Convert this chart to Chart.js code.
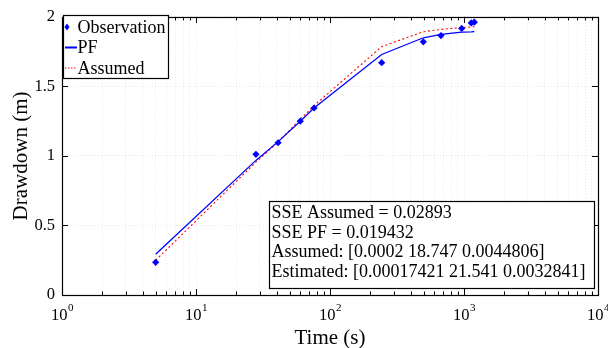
<!DOCTYPE html>
<html><head><meta charset="utf-8">
<script src="https://cdn.jsdelivr.net/npm/chart.js@4/dist/chart.umd.min.js"></script>
<style>html,body{margin:0;padding:0;background:#fff;}#wrap{width:608px;height:348px;}</style>
</head><body><div id="wrap"><canvas id="c" width="608" height="348"></canvas></div>
<script>
// ---- data ----
const times      = [5, 28, 41, 60, 76, 243, 497, 673, 961, 1133, 1194];
const observed   = [0.235, 1.012, 1.095, 1.25, 1.345, 1.671, 1.821, 1.866, 1.917, 1.957, 1.962];
const pfFit      = [0.293, 0.968, 1.103, 1.25, 1.345, 1.73, 1.85, 1.875, 1.89, 1.893, 1.895];
const assumedFit = [0.25, 0.955, 1.10, 1.265, 1.362, 1.786, 1.893, 1.91, 1.924, 1.928, 1.93];
const xMajorTicks = [1, 10, 100, 1000, 10000];
const xTickExponents = ['0', '1', '2', '3', '4'];
const yTicks = [0, 0.5, 1, 1.5, 2];
const yTickLabels = ['0', '0.5', '1', '1.5', '2'];
const xTitle = 'Time (s)';
const yTitle = 'Drawdown (m)';
const seriesLabels = ['Observation', 'PF', 'Assumed'];
const infoLines = ['SSE Assumed = 0.02893', 'SSE PF = 0.019432', 'Assumed: [0.0002 18.747 0.0044806]', 'Estimated: [0.00017421 21.541 0.0032841]'];

const FONT = '"Liberation Serif", "Times New Roman", serif';
const BLUE = '#0000ff', RED = '#ff0000';

function pts(ys) { return times.map((t, i) => ({ x: t, y: ys[i] })); }

// all log tick positions (1..9 per decade)
function logTickList() {
  const out = [];
  for (let e = 0; e < 4; e++) for (let m = 1; m <= 9; m++) out.push({ value: m * Math.pow(10, e), major: m === 1 });
  out.push({ value: 10000, major: true });
  return out;
}

const decor = {
  id: 'decor',
  afterDraw(chart) {
    const ctx = chart.ctx, ca = chart.chartArea;
    const xs = chart.scales.x, ys = chart.scales.y;
    const ds = chart.data.datasets;
    ctx.save();
    // box
    ctx.strokeStyle = '#000'; ctx.lineWidth = 1.2; ctx.setLineDash([]);
    ctx.strokeRect(Math.round(ca.left) + 0.5, Math.round(ca.top) + 0.5, Math.round(ca.right - ca.left), Math.round(ca.bottom - ca.top));
    // x ticks inward, top and bottom
    ctx.lineWidth = 1;
    ctx.beginPath();
    logTickList().forEach(t => {
      const px = Math.round(xs.getPixelForValue(t.value)) + 0.5;
      const len = t.major ? 6 : 3.5;
      ctx.moveTo(px, ca.bottom); ctx.lineTo(px, ca.bottom - len);
      ctx.moveTo(px, ca.top); ctx.lineTo(px, ca.top + len);
    });
    yTicks.forEach(v => {
      const py = Math.round(ys.getPixelForValue(v)) + 0.5;
      ctx.moveTo(ca.left, py); ctx.lineTo(ca.left + 6, py);
      ctx.moveTo(ca.right, py); ctx.lineTo(ca.right - 6, py);
    });
    ctx.stroke();
    // x tick labels 10^n
    ctx.fillStyle = '#000';
    xMajorTicks.forEach((v, i) => {
      const px = xs.getPixelForValue(v);
      ctx.font = '16.5px ' + FONT;
      const wb = ctx.measureText('10').width;
      ctx.font = '11px ' + FONT;
      const we = ctx.measureText(xTickExponents[i]).width;
      const x0 = px - (wb + we) / 2;
      ctx.textBaseline = 'alphabetic'; ctx.textAlign = 'left';
      ctx.font = '16.5px ' + FONT;
      ctx.fillText('10', x0, 320);
      ctx.font = '11px ' + FONT;
      ctx.fillText(xTickExponents[i], x0 + wb + 0.5, 311);
    });
    // axis titles
    ctx.font = '21px ' + FONT;
    ctx.textAlign = 'center'; ctx.textBaseline = 'alphabetic';
    ctx.fillText(xTitle, (ca.left + ca.right) / 2, 344);
    ctx.save();
    ctx.translate(27, (ca.top + ca.bottom) / 2);
    ctx.rotate(-Math.PI / 2);
    ctx.fillText(yTitle, 0, 0);
    ctx.restore();
    // legend
    const lx = 63.5, ly = 15.5, lw = 105, lh = 63;
    ctx.fillStyle = '#fff'; ctx.fillRect(lx, ly, lw, lh);
    ctx.strokeStyle = '#000'; ctx.lineWidth = 1.2; ctx.strokeRect(lx, ly, lw, lh);
    ctx.font = '18px ' + FONT; ctx.textAlign = 'left'; ctx.textBaseline = 'middle'; ctx.fillStyle = '#000';
    const rowY = [27, 47.5, 68];
    // marker
    ctx.fillStyle = ds[0].backgroundColor;
    ctx.beginPath(); ctx.moveTo(67, rowY[0] - 3.5); ctx.lineTo(69.5, rowY[0]); ctx.lineTo(67, rowY[0] + 3.5); ctx.lineTo(64.5, rowY[0]); ctx.closePath(); ctx.fill();
    // PF line
    ctx.strokeStyle = ds[1].borderColor; ctx.lineWidth = 2; ctx.setLineDash([]);
    ctx.beginPath(); ctx.moveTo(65, rowY[1]); ctx.lineTo(77, rowY[1]); ctx.stroke();
    // Assumed
    ctx.strokeStyle = ds[2].borderColor; ctx.lineWidth = 1; ctx.setLineDash([1.5, 1.5]);
    ctx.beginPath(); ctx.moveTo(65, rowY[2]); ctx.lineTo(77, rowY[2]); ctx.stroke();
    ctx.setLineDash([]);
    ctx.fillStyle = '#000';
    seriesLabels.forEach((s, i) => ctx.fillText(s, 77.5, rowY[i] + 1));
    // info box
    const bx = 269.5, by = 201.5, bw = 325, bh = 87;
    ctx.fillStyle = '#fff'; ctx.fillRect(bx, by, bw, bh);
    ctx.strokeStyle = '#000'; ctx.lineWidth = 1.2; ctx.strokeRect(bx, by, bw, bh);
    ctx.fillStyle = '#000'; ctx.font = '18px ' + FONT; ctx.textBaseline = 'middle';
    infoLines.forEach((s, i) => ctx.fillText(s, 271.5, 213.5 + i * 19.5));
    ctx.restore();
  }
};

new Chart(document.getElementById('c'), {
  type: 'line',
  data: {
    datasets: [
      { label: seriesLabels[0], data: pts(observed), showLine: false, pointStyle: 'rectRot', pointRadius: 3.6, pointHoverRadius: 3.6, backgroundColor: BLUE, borderColor: BLUE, borderWidth: 0, order: 0 },
      { label: seriesLabels[1], data: pts(pfFit), borderColor: BLUE, backgroundColor: BLUE, borderWidth: 1.3, pointRadius: 0, tension: 0, order: 1 },
      { label: seriesLabels[2], data: pts(assumedFit), borderColor: RED, backgroundColor: RED, borderWidth: 1.1, borderDash: [2, 2.5], pointRadius: 0, tension: 0, order: 2 }
    ]
  },
  options: {
    responsive: false, animation: false, devicePixelRatio: 1,
    layout: { padding: { left: 0, right: 10, top: 15, bottom: 0 } },
    plugins: { legend: { display: false }, tooltip: { enabled: false } },
    scales: {
      x: {
        type: 'logarithmic', min: 1, max: 10000,
        afterBuildTicks: s => { s.ticks = logTickList(); },
        afterFit: s => { s.height = 53; },
        ticks: { display: false, autoSkip: false },
        grid: { color: 'rgba(0,0,0,0.09)', drawTicks: false, lineWidth: 1 },
        border: { display: false, dash: [1, 2] }
      },
      y: {
        min: 0, max: 2,
        afterBuildTicks: s => { s.ticks = yTicks.map(v => ({ value: v })); },
        afterFit: s => { s.width = 62; },
        ticks: { color: '#000', font: { family: FONT, size: 16.5 }, padding: 7, callback: (v) => { const i = yTicks.indexOf(v); return i >= 0 ? yTickLabels[i] : ''; } },
        grid: { color: 'rgba(0,0,0,0.09)', drawTicks: false, lineWidth: 1 },
        border: { display: false, dash: [1, 2] }
      }
    }
  },
  plugins: [decor]
});
</script></body></html>
